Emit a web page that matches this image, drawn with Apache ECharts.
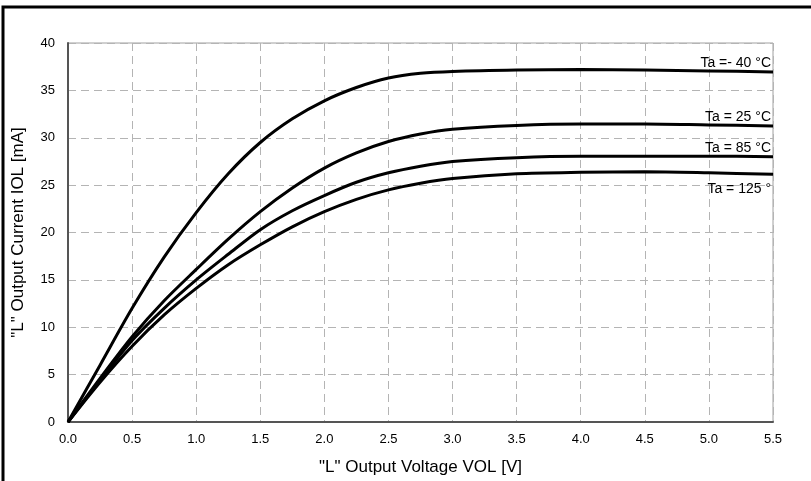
<!DOCTYPE html>
<html>
<head>
<meta charset="utf-8">
<style>
  html, body { margin: 0; padding: 0; background: #fff; }
  #chart { width: 811px; height: 481px; }
</style>
<script src="https://cdn.jsdelivr.net/npm/echarts@6/dist/echarts.min.js"></script>
</head>
<body>
<div id="chart"></div>
<script>
// Output voltage VOL [V]
const vol = [0, 0.25, 0.5, 0.75, 1.0, 1.25, 1.5, 1.75, 2.0, 2.25, 2.5, 2.75, 3.0, 3.5, 4.0, 4.5, 5.0, 5.5];

// Output current IOL [mA] per ambient temperature
const iolMinus40 = [0, 6.0, 12.0, 17.4, 22.1, 26.2, 29.5, 32.0, 33.9, 35.3, 36.3, 36.8, 37.0, 37.15, 37.2, 37.15, 37.05, 36.95];
const iol25      = [0, 4.6, 9.0, 12.8, 16.1, 19.3, 22.2, 24.7, 26.8, 28.4, 29.6, 30.4, 30.9, 31.3, 31.45, 31.45, 31.35, 31.25];
const iol85      = [0, 4.4, 8.6, 12.0, 15.0, 17.7, 20.3, 22.3, 23.9, 25.3, 26.3, 27.0, 27.5, 27.9, 28.05, 28.05, 28.05, 28.0];
const iol125     = [0, 4.2, 8.0, 11.3, 14.1, 16.6, 18.7, 20.6, 22.2, 23.5, 24.5, 25.2, 25.7, 26.2, 26.35, 26.4, 26.3, 26.15];

const seriesNames = ['Ta =- 40 °C', 'Ta = 25 °C', 'Ta = 85 °C', 'Ta = 125 °'];
const seriesValues = [iolMinus40, iol25, iol85, iol125];
const labelBelow = [false, false, false, true];

const xTicks = { min: 0, max: 5.5, interval: 0.5 };
const yTicks = { min: 0, max: 40, interval: 5 };

const FONT = '"Liberation Sans", Arial, sans-serif';

const chart = echarts.init(document.getElementById('chart'), null, { renderer: 'canvas' });

const series = seriesValues.map((vals, i) => {
  const pts = vol.map((v, k) => [v, vals[k]]);
  const last = pts[pts.length - 1];
  return {
    name: seriesNames[i],
    type: 'line',
    data: pts,
    smooth: 0.3,
    showSymbol: false,
    silent: true,
    lineStyle: { color: '#000', width: 3 },
    z: 5,
    markPoint: {
      silent: true,
      symbol: 'circle',
      symbolSize: 0,
      data: [{
        coord: last,
        label: {
          show: true,
          formatter: seriesNames[i],
          position: labelBelow[i] ? 'bottom' : 'top',
          distance: labelBelow[i] ? 8 : 2,
          align: 'right',
          offset: [-2, 0],
          color: '#000',
          fontSize: 14,
          fontFamily: FONT
        }
      }]
    }
  };
});

chart.setOption({
  animation: false,
  backgroundColor: '#fff',
  grid: {
    left: 68, right: 38, top: 43, bottom: 58,
    show: true, borderColor: '#a0a0a0', borderWidth: 1
  },
  xAxis: {
    type: 'value',
    min: xTicks.min, max: xTicks.max, interval: xTicks.interval,
    name: '"L" Output Voltage VOL [V]',
    nameLocation: 'middle',
    nameGap: 37,
    nameTextStyle: { color: '#000', fontSize: 17, fontFamily: FONT },
    axisLine: { show: true, onZero: false, lineStyle: { color: '#555', width: 2 } },
    axisTick: { show: false },
    axisLabel: {
      color: '#000', fontSize: 13, fontFamily: FONT, margin: 11,
      formatter: v => v.toFixed(1)
    },
    splitLine: { show: true, lineStyle: { color: '#b4b4b4', width: 1, type: [8, 5] } }
  },
  yAxis: {
    type: 'value',
    min: yTicks.min, max: yTicks.max, interval: yTicks.interval,
    name: '"L" Output Current IOL [mA]',
    nameLocation: 'middle',
    nameGap: 41,
    nameTextStyle: { color: '#000', fontSize: 17, fontFamily: FONT },
    axisLine: { show: true, onZero: false, lineStyle: { color: '#555', width: 2 } },
    axisTick: { show: false },
    axisLabel: { color: '#000', fontSize: 13, fontFamily: FONT, margin: 13 },
    splitLine: { show: true, lineStyle: { color: '#b4b4b4', width: 1, type: [8, 5] } }
  },
  graphic: [{
    type: 'rect',
    silent: true,
    shape: { x: 3, y: 7, width: 812, height: 476 },
    style: { fill: 'none', stroke: '#000', lineWidth: 3 },
    z: 100
  }],
  series: series
});
</script>
</body>
</html>
